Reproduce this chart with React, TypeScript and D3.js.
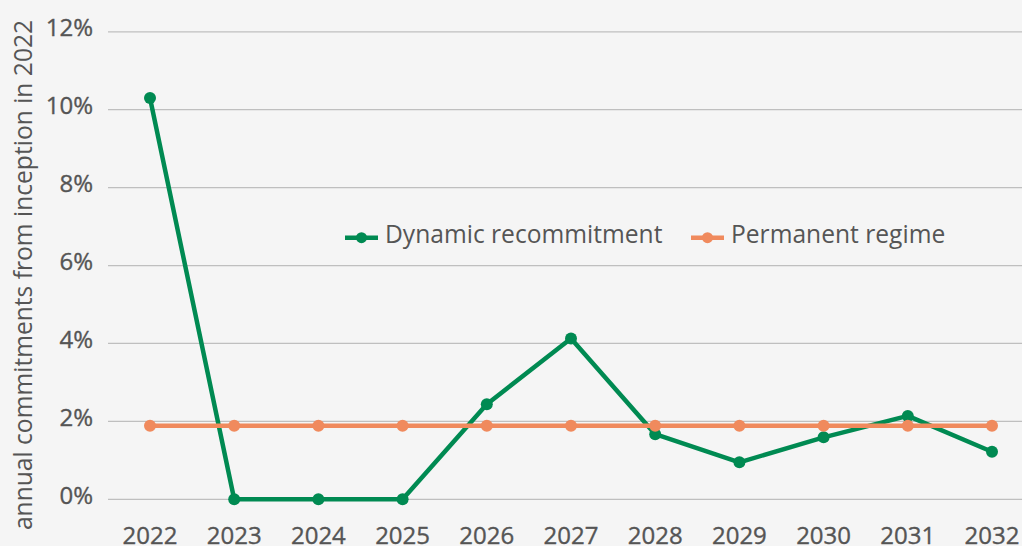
import React from "react";
import * as d3 from "d3";

const years = ["2022", "2023", "2024", "2025", "2026", "2027", "2028", "2029", "2030", "2031", "2032"];
const dynamicValues = [10.3, 0, 0, 0, 2.44, 4.13, 1.67, 0.95, 1.59, 2.14, 1.22];
const permanentValues = [1.89, 1.89, 1.89, 1.89, 1.89, 1.89, 1.89, 1.89, 1.89, 1.89, 1.89];
const yTicks = [0, 2, 4, 6, 8, 10, 12];
const seriesNames = ["Dynamic recommitment", "Permanent regime"];
const yLabel = "annual commitments from inception in 2022";

const W = 1022;
const H = 546;
const GREEN = "#008a52";
const ORANGE = "#f08a5d";
const TEXT = "#555555";
const FONT = "'Open Sans', sans-serif";

export default function App() {
  const x = d3.scalePoint<string>().domain(years).range([150, 992]);
  const y = d3.scaleLinear().domain([0, 12]).range([499.3, 31.8]);
  const line = d3
    .line<number>()
    .x((_, i) => x(years[i]) as number)
    .y((d) => y(d));

  const series = [
    { name: seriesNames[0], values: dynamicValues, color: GREEN },
    { name: seriesNames[1], values: permanentValues, color: ORANGE },
  ];

  const legendItems = [
    { name: seriesNames[0], color: GREEN, x0: 345 },
    { name: seriesNames[1], color: ORANGE, x0: 691 },
  ];

  return (
    <svg
      width={W}
      height={H}
      style={{ position: "absolute", left: 0, top: 0, background: "#f5f5f5" }}
      fontFamily={FONT}
    >
      <rect x={0} y={0} width={W} height={H} fill="#f5f5f5" />
      {yTicks.map((t) => (
        <g key={t}>
          <line x1={108} x2={W} y1={y(t)} y2={y(t)} stroke="#bfbfbf" strokeWidth={1.3} />
          <text x={93} y={y(t) + 4.3} textAnchor="end" fontSize={24} fill={TEXT} stroke={TEXT} strokeWidth={0.35}>
            {t}%
          </text>
        </g>
      ))}
      {years.map((yr) => (
        <text key={yr} x={x(yr)} y={544} textAnchor="middle" fontSize={24} fill={TEXT} stroke={TEXT} strokeWidth={0.35}>
          {yr}
        </text>
      ))}
      <text
        transform={`translate(32,275) rotate(-90)`}
        textAnchor="middle"
        fontSize={24.6}
        fill={TEXT}
      >
        {yLabel}
      </text>
      {series.map((s) => (
        <g key={s.name}>
          <path d={line(s.values) || ""} fill="none" stroke={s.color} strokeWidth={4.5} strokeLinejoin="round" />
          {s.values.map((v, i) => (
            <circle key={i} cx={x(years[i])} cy={y(v)} r={6} fill={s.color} />
          ))}
        </g>
      ))}
      {legendItems.map((l) => (
        <g key={l.name}>
          <line x1={l.x0} x2={l.x0 + 33} y1={237.7} y2={237.7} stroke={l.color} strokeWidth={4.5} />
          <circle cx={l.x0 + 16.5} cy={237.7} r={5.5} fill={l.color} />
          <text x={l.x0 + 40} y={242.7} fontSize={24.6} fill={TEXT}>
            {l.name}
          </text>
        </g>
      ))}
    </svg>
  );
}
